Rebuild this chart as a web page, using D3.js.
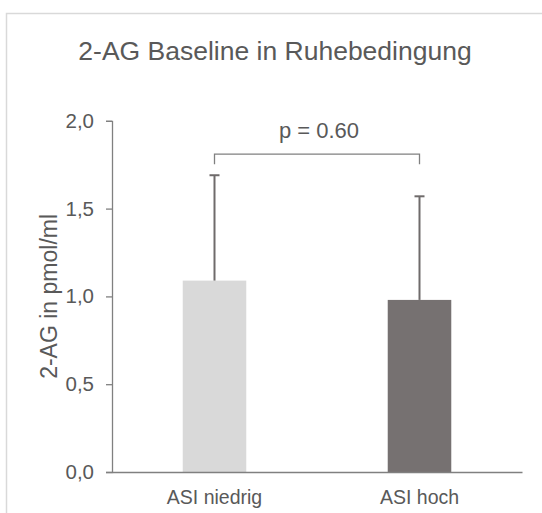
<!DOCTYPE html>
<html>
<head>
<meta charset="utf-8">
<script src="https://cdn.jsdelivr.net/npm/d3@7"></script>
<style>
  body { margin: 0; background: #fff; }
  text { font-family: "Liberation Sans", Arial, sans-serif; fill: #595959; }
</style>
</head>
<body>
<div id="chart"></div>
<script>
const categories = ["ASI niedrig", "ASI hoch"];
const means = [1.09, 0.98];
const errors = [0.60, 0.59];
const barColors = ["#d9d9d9", "#767171"];
const yTicks = [0, 0.5, 1.0, 1.5, 2.0];
const pLabel = "p = 0.60";
const bracketValue = 1.81;

const width = 542, height = 513;
const margin = { left: 112, right: 20, top: 120.8, bottom: 41 };

const svg = d3.select("#chart").append("svg")
  .attr("width", width)
  .attr("height", height);

// outer chart frame (only left/top edges inside the picture)
svg.append("rect")
  .attr("x", 6.5).attr("y", 13.5)
  .attr("width", 700).attr("height", 700)
  .attr("fill", "none")
  .attr("stroke", "#d9d9d9")
  .attr("stroke-width", 1.5);

const data = categories.map((c, i) => ({ cat: c, mean: means[i], err: errors[i], color: barColors[i] }));

const xScale = d3.scaleBand()
  .domain(categories)
  .range([margin.left, width - margin.right])
  .padding(0);

const yScale = d3.scaleLinear()
  .domain([0, 2])
  .range([height - margin.bottom, margin.top]);

const barW = xScale.bandwidth() * 0.31;
const cx = (d) => xScale(d.cat) + xScale.bandwidth() / 2;

// title
svg.append("text")
  .attr("x", 275).attr("y", 60)
  .attr("text-anchor", "middle")
  .style("font-size", "26.5px")
  .text("2-AG Baseline in Ruhebedingung");

// bars
svg.selectAll(".bar")
  .data(data)
  .enter()
  .append("rect")
  .attr("class", "bar")
  .attr("x", (d) => cx(d) - barW / 2)
  .attr("y", (d) => yScale(d.mean))
  .attr("width", barW)
  .attr("height", (d) => yScale(0) - yScale(d.mean))
  .attr("fill", (d) => d.color);

// error bars (upper only)
const eb = svg.selectAll(".err").data(data).enter().append("g").attr("class", "err");
eb.append("line")
  .attr("x1", cx).attr("x2", cx)
  .attr("y1", (d) => yScale(d.mean))
  .attr("y2", (d) => yScale(d.mean + d.err))
  .attr("stroke", "#6f6b6b").attr("stroke-width", 2);
eb.append("line")
  .attr("x1", (d) => cx(d) - 5).attr("x2", (d) => cx(d) + 5)
  .attr("y1", (d) => yScale(d.mean + d.err))
  .attr("y2", (d) => yScale(d.mean + d.err))
  .attr("stroke", "#6f6b6b").attr("stroke-width", 2);

// y axis
const yAxis = svg.append("g")
  .attr("class", "y-axis")
  .attr("transform", `translate(${margin.left},0)`)
  .call(d3.axisLeft(yScale).tickValues(yTicks).tickSize(6).tickPadding(12)
    .tickFormat((d) => d3.format(".1f")(d).replace(".", ",")));
yAxis.select(".domain").attr("stroke", "#808080").attr("stroke-width", 1.3);
yAxis.selectAll(".tick line").attr("stroke", "#808080").attr("stroke-width", 1.3);
yAxis.selectAll(".tick text")
  .style("font-size", "20.5px")
  .attr("fill", "#595959")
  .attr("font-family", "Liberation Sans, Arial, sans-serif");

// x axis
const xAxis = svg.append("g")
  .attr("class", "x-axis")
  .attr("transform", `translate(0,${yScale(0)})`)
  .call(d3.axisBottom(xScale).tickSize(0).tickPadding(14).tickSizeOuter(0));
xAxis.select(".domain").attr("stroke", "#808080").attr("stroke-width", 1.3);
xAxis.selectAll(".tick text")
  .style("font-size", "19.5px")
  .attr("fill", "#595959")
  .attr("dy", "0.9em")
  .attr("font-family", "Liberation Sans, Arial, sans-serif");

// y axis label
svg.append("text")
  .attr("transform", `translate(57,${(yScale(0) + yScale(2)) / 2}) rotate(-90)`)
  .attr("text-anchor", "middle")
  .style("font-size", "23px")
  .text("2-AG in pmol/ml");

// significance bracket
const bx1 = cx(data[0]), bx2 = cx(data[1]);
const by = yScale(bracketValue);
svg.append("path")
  .attr("d", `M${bx1},${by + 10}V${by}H${bx2}V${by + 10}`)
  .attr("fill", "none")
  .attr("stroke", "#808080")
  .attr("stroke-width", 1.3);
svg.append("text")
  .attr("x", (bx1 + bx2) / 2 + 2).attr("y", by - 16)
  .attr("text-anchor", "middle")
  .style("font-size", "22px")
  .text(pLabel);
</script>
</body>
</html>
